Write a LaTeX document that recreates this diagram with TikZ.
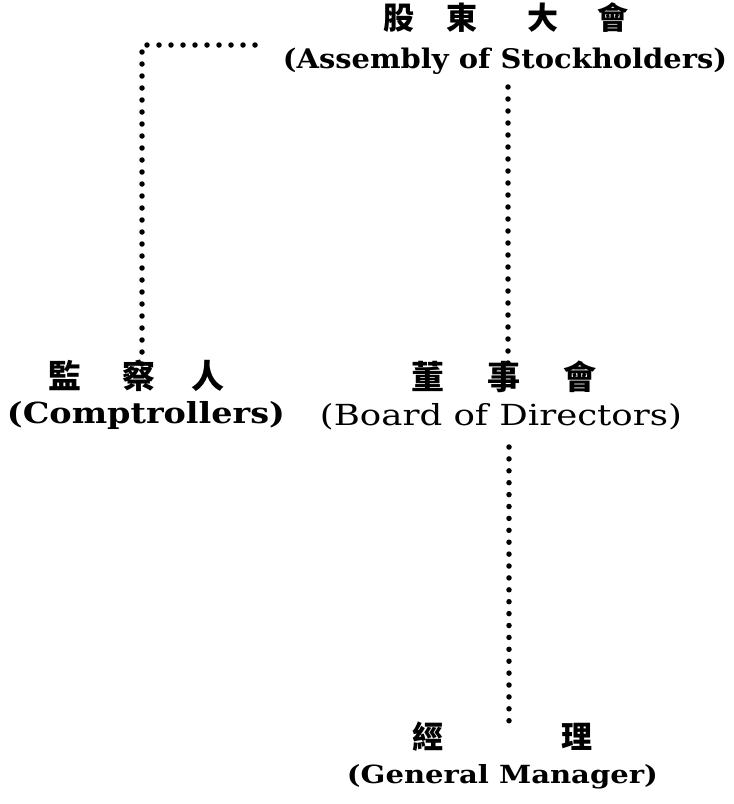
\documentclass[tikz,border=0pt]{standalone}
\usepackage{fontspec}
\usepackage{graphicx}
\newfontfamily\cjk{Noto Sans CJK TC}
\newfontfamily\enf{DejaVu Serif}
\newcommand\wfit[2]{\resizebox{#1}{\height}{#2}}
\tikzset{
  cn/.style={inner sep=0pt, text height=0.88em, text depth=0.12em, anchor=center, font=\cjk\bfseries\fontsize{33}{33}\selectfont},
  cnsmall/.style={cn, font=\cjk\bfseries\fontsize{31}{31}\selectfont},
  en/.style={inner sep=0pt, anchor=base},
  dots/.style={line width=5.5pt, line cap=round, dash pattern=on 0pt off 12pt},
}
\begin{document}
\begin{tikzpicture}[x=1pt,y=-1pt]
\useasboundingbox[fill=white] (0,0) rectangle (734,804);
% Assembly of Stockholders
\node[cnsmall] (asmcn) at (506,26) {股\hspace{32pt}東\hspace{50pt}大\hspace{39pt}會};
\node[en] (asmen) at (505,68) {\wfit{444pt}{\enf\bfseries\fontsize{27}{28}\selectfont (Assembly of Stockholders)}};
% Comptrollers
\node[cn] (compcn) at (136.5,385) {監\hspace{41pt}察\hspace{36pt}人};
\node[en] (compen) at (146,423) {\wfit{278pt}{\enf\bfseries\fontsize{29}{30}\selectfont (Comptrollers)}};
% Board of Directors
\node[cn] (boardcn) at (504,386) {董\hspace{43pt}事\hspace{43pt}會};
\node[en] (boarden) at (501,425) {\wfit{362pt}{\enf\fontsize{29}{30}\selectfont (Board of Directors)}};
% General Manager
\node[cnsmall] (gmcn) at (502.5,745) {經\hspace{118pt}理};
\node[en] (gmen) at (502.5,783) {\wfit{311pt}{\enf\bfseries\fontsize{25}{26}\selectfont (General Manager)}};
% connector coordinates
\coordinate (rx) at (508,0);
\coordinate (rx2) at (509,0);
\coordinate (lx) at (142,0);
\coordinate (lend) at (255,45);
% connectors
\draw[dots, shorten <=19pt, shorten >=7pt] (asmen.base -| rx) -- (boardcn.north -| rx);
\draw[dots, dash pattern=on 0pt off 11.9pt, shorten <=22pt, shorten >=10pt] (boarden.base -| rx2) -- (gmcn.north -| rx2);
\draw[dots, shorten >=7pt] (lend) -| (compcn.north -| lx);
\end{tikzpicture}
\end{document}
